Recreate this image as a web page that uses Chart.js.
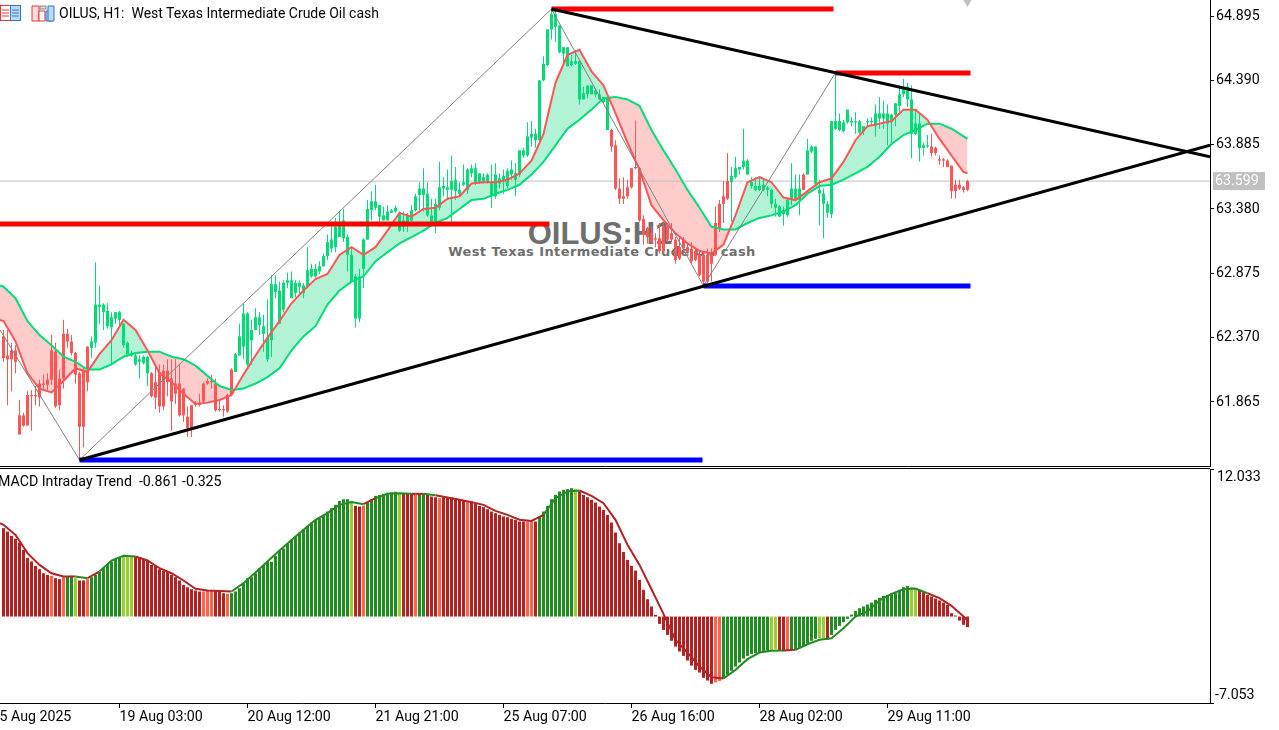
<!DOCTYPE html>
<html>
<head>
<meta charset="utf-8">
<title>OILUS H1</title>
<script src="https://cdn.jsdelivr.net/npm/chart.js@4/dist/chart.umd.min.js"></script>
<style>
html, body { margin: 0; padding: 0; background: #fff; width: 1279px; height: 730px; overflow: hidden; }
canvas { position: absolute; left: 0; z-index: 1; }
#priceChart { top: 0; }
#macdChart { top: 468px; }
.txt { position: absolute; white-space: nowrap; color: #000; font-family: Roboto, sans-serif; z-index: 2; }
#header { left: 59px; top: 5px; font-size: 14px; line-height: 17px; }
#macdLabel { left: -2px; top: 473px; font-size: 14.2px; line-height: 17px; }
#markTitle { z-index: 0; left: 440px; width: 320px; text-align: center; top: 216px; font: bold 31px/36px "Liberation Sans", sans-serif; color: #6e6e6e; }
#markSub { z-index: 0; left: 443px; width: 318px; text-align: center; top: 244px; font: bold 13px/16px "DejaVu Sans", sans-serif; letter-spacing: 0.4px; color: #6e6e6e; }
#paneLine { position: absolute; left: 0; top: 468px; width: 1210px; height: 1px; background: #000; z-index: 2; }
svg { position: absolute; top: 5px; z-index: 2; }
</style>
</head>
<body>
<div id="markTitle" class="txt">OILUS:H1</div>
<div id="markSub" class="txt">West Texas Intermediate Crude Oil cash</div>
<canvas id="priceChart" width="1279" height="467"></canvas>
<canvas id="macdChart" width="1279" height="262"></canvas>
<div id="paneLine"></div>
<svg style="left:0" width="22" height="17"><rect x="0.5" y="0.5" width="10" height="15" fill="#fff" stroke="#e33"/><rect x="10.5" y="0.5" width="10" height="15" fill="#bcdcf5" stroke="#2a78c0"/><path d="M2 5h7M2 8h7M2 11h7" stroke="#e33"/><path d="M12 5h7M12 8h7M12 11h7" stroke="#2a78c0"/></svg>
<svg style="left:31px" width="24" height="17"><path d="M1 1h7v15H1z" fill="#fdd" stroke="#e33"/><path d="M8 6h6v10H8z" fill="#fff" stroke="#e33"/><path d="M15 6h7v10h-7z" fill="#bcdcf5" stroke="#2a78c0"/><path d="M17 1h6v15h-6z" fill="#bcdcf5" stroke="#2a78c0"/><rect x="9" y="1" width="6" height="3" fill="#ddd" stroke="#888"/></svg>
<div id="header" class="txt">OILUS, H1:&nbsp; West Texas Intermediate Crude Oil cash</div>
<div id="macdLabel" class="txt">MACD Intraday Trend&nbsp; -0.861 -0.325</div>

<script>
// Candles, one entry per H1 bar
const bodyTop = [
  62.38,62.23,62.27,62.27,61.76,61.76,61.92,61.92,61.92,62.01,
  62.01,62.04,62.27,62.26,62.05,62.40,62.40,62.34,62.25,62.09,
  62.11,62.30,62.34,62.63,62.63,62.63,62.58,62.53,62.57,62.57,
  62.48,62.33,62.25,62.23,62.20,62.22,62.22,62.09,62.02,62.10,
  62.11,62.11,62.05,62.01,62.01,61.97,61.75,61.84,61.85,61.85,
  62.01,62.03,62.03,62.01,61.81,61.81,61.92,62.12,62.24,62.38,
  62.56,62.56,62.43,62.53,62.53,62.46,62.37,62.79,62.79,62.74,
  62.80,62.82,62.82,62.80,62.80,62.78,62.90,62.91,62.91,62.93,
  63.01,63.12,63.14,63.24,63.28,63.29,63.16,63.02,62.85,62.85,
  63.14,63.38,63.44,63.44,63.41,63.33,63.36,63.37,63.39,63.35,
  63.29,63.33,63.37,63.48,63.54,63.54,63.50,63.33,63.42,63.55,
  63.56,63.55,63.60,63.61,63.53,63.59,63.69,63.70,63.70,63.66,
  63.63,63.65,63.59,63.65,63.62,63.64,63.68,63.69,63.66,63.84,
  63.84,63.95,63.97,63.97,64.39,64.52,64.79,64.91,64.91,64.82,
  64.65,64.65,64.54,64.54,64.54,64.29,64.35,64.35,64.31,64.28,
  64.26,64.25,64.00,63.88,63.54,63.48,63.55,63.70,63.71,63.70,
  63.30,63.23,63.19,63.15,63.15,63.24,63.24,63.19,63.14,63.08,
  63.14,63.08,63.07,63.05,63.02,63.02,63.02,63.03,63.27,63.42,
  63.48,63.60,63.64,63.70,63.71,63.76,63.76,63.59,63.56,63.56,
  63.57,63.55,63.53,63.42,63.40,63.37,63.45,63.54,63.54,63.54,
  63.65,63.84,63.87,63.87,63.53,63.50,63.42,64.07,64.07,64.07,
  64.06,64.16,64.07,64.07,64.07,64.03,64.07,64.07,64.13,64.13,
  64.13,64.13,64.12,64.21,64.28,64.33,64.34,64.24,64.05,64.05,
  63.88,63.88,63.87,63.86,63.77,63.77,63.76,63.72,63.57,63.57,
  63.55,63.60
];
const bodyBottom = [
  62.21,62.20,62.20,62.18,61.61,61.68,61.68,61.91,61.91,61.90,
  62.00,62.00,62.04,61.83,61.84,62.05,62.34,62.25,62.08,61.67,
  61.67,62.02,62.29,62.33,62.61,62.57,62.46,62.45,62.52,62.51,
  62.31,62.24,62.23,62.16,62.18,62.17,62.09,61.91,61.90,61.83,
  61.83,62.02,61.87,61.93,61.76,61.76,61.66,61.66,61.84,61.84,
  61.87,62.01,62.02,61.80,61.80,61.80,61.79,61.92,62.10,62.23,
  62.30,62.16,62.35,62.43,62.47,62.40,62.20,62.35,62.73,62.48,
  62.59,62.80,62.68,62.72,62.77,62.72,62.77,62.85,62.85,62.89,
  62.93,63.01,63.07,63.08,63.16,63.15,63.02,62.81,62.52,62.52,
  62.91,63.14,63.37,63.39,63.32,63.29,63.29,63.35,63.36,63.21,
  63.24,63.25,63.29,63.37,63.49,63.49,63.33,63.28,63.28,63.39,
  63.54,63.53,63.53,63.52,63.50,63.57,63.53,63.66,63.59,63.59,
  63.59,63.59,63.49,63.48,63.58,63.59,63.56,63.65,63.61,63.65,
  63.80,63.80,63.94,63.92,63.92,64.39,64.51,64.79,64.81,64.61,
  64.60,64.50,64.51,64.52,64.24,64.24,64.28,64.28,64.28,64.24,
  64.22,64.00,63.87,63.54,63.46,63.46,63.48,63.55,63.70,63.29,
  63.18,63.16,63.12,63.14,63.05,63.05,63.14,63.14,62.98,62.99,
  63.07,63.05,62.97,62.98,62.86,62.81,62.81,62.95,63.02,63.22,
  63.42,63.46,63.59,63.63,63.69,63.71,63.65,63.56,63.53,63.53,
  63.53,63.53,63.42,63.39,63.32,63.34,63.33,63.45,63.45,63.45,
  63.53,63.65,63.83,63.58,63.50,63.42,63.35,63.34,64.01,64.00,
  63.99,64.06,64.06,64.06,63.98,63.99,64.06,64.06,64.03,64.09,
  64.09,64.05,64.06,64.12,64.19,64.28,64.24,63.97,63.97,63.86,
  63.86,63.87,63.82,63.82,63.76,63.76,63.71,63.52,63.52,63.54,
  63.53,63.53
];
const wickTop = [
  62.43,62.43,62.33,62.31,61.88,61.78,61.95,61.96,61.99,62.04,
  62.08,62.09,62.39,62.33,62.12,62.51,62.44,62.39,62.26,62.10,
  62.13,62.30,62.38,62.96,62.78,62.64,62.64,62.57,62.57,62.58,
  62.48,62.34,62.27,62.25,62.23,62.23,62.23,62.10,62.16,62.16,
  62.16,62.20,62.20,62.20,62.16,61.97,61.83,61.84,61.87,61.93,
  62.02,62.05,62.08,62.05,61.88,61.84,61.93,62.13,62.25,62.48,
  62.64,62.57,62.51,62.60,62.57,62.55,62.67,62.86,62.86,62.81,
  62.82,62.88,62.89,62.82,62.82,62.80,63.08,62.95,62.95,62.97,
  63.03,63.18,63.28,63.31,63.36,63.38,63.18,63.07,62.87,62.91,
  63.15,63.45,63.52,63.57,63.41,63.40,63.41,63.38,63.41,63.36,
  63.36,63.35,63.41,63.50,63.59,63.70,63.59,63.46,63.46,63.75,
  63.63,63.69,63.80,63.71,63.59,63.73,63.70,63.73,63.74,63.66,
  63.66,63.66,63.73,63.74,63.66,63.69,63.70,63.76,63.74,63.84,
  63.86,64.06,64.07,64.01,64.39,64.58,64.79,64.95,64.94,64.82,
  64.65,64.65,64.59,64.63,64.55,64.34,64.35,64.35,64.33,64.32,
  64.26,64.26,64.01,63.92,63.62,63.63,63.61,63.70,64.07,63.71,
  63.33,63.24,63.25,63.19,63.27,63.27,63.27,63.27,63.16,63.16,
  63.16,63.11,63.12,63.07,63.05,63.03,63.07,63.07,63.40,63.45,
  63.60,63.82,63.71,63.79,63.71,64.01,63.77,63.63,63.63,63.63,
  63.61,63.56,63.54,63.46,63.41,63.40,63.46,63.74,63.65,63.65,
  63.66,63.93,63.88,63.87,63.61,63.54,63.44,64.07,64.45,64.13,
  64.08,64.16,64.10,64.14,64.08,64.03,64.09,64.10,64.20,64.26,
  64.23,64.20,64.13,64.21,64.34,64.40,64.37,64.35,64.16,64.13,
  63.90,63.96,63.97,63.87,63.80,63.78,63.77,63.72,63.61,63.61,
  63.56,63.61
];
const wickBottom = [
  62.18,61.84,61.95,62.09,61.61,61.67,61.68,61.64,61.84,61.83,
  61.96,61.96,62.00,61.82,61.80,61.97,62.29,62.23,62.01,61.41,
  61.51,61.95,62.21,62.29,62.48,62.43,62.44,62.16,62.48,62.46,
  62.29,62.22,62.22,62.15,62.05,62.16,61.99,61.90,61.81,61.78,
  61.80,61.91,61.64,61.85,61.75,61.71,61.59,61.59,61.83,61.83,
  61.86,62.00,61.97,61.79,61.79,61.75,61.78,61.91,62.10,62.23,
  62.20,62.14,62.16,62.43,62.39,62.26,62.18,62.22,62.68,62.48,
  62.57,62.76,62.68,62.69,62.70,62.68,62.76,62.84,62.84,62.87,
  62.93,62.98,63.04,63.04,63.16,63.12,62.89,62.80,62.45,62.49,
  62.76,63.14,63.29,63.37,63.24,63.29,63.29,63.35,63.35,63.20,
  63.20,63.20,63.28,63.36,63.37,63.36,63.32,63.24,63.19,63.37,
  63.48,63.46,63.28,63.45,63.49,63.56,63.50,63.63,63.57,63.58,
  63.58,63.58,63.39,63.46,63.54,63.50,63.54,63.61,63.48,63.63,
  63.78,63.79,63.87,63.86,63.90,64.38,64.50,64.71,64.69,64.60,
  64.52,64.50,64.50,64.51,64.20,64.24,64.25,64.28,64.26,64.24,
  64.21,64.00,63.83,63.53,63.42,63.42,63.46,63.54,63.69,63.28,
  63.10,63.11,63.11,63.08,63.03,63.03,63.12,63.12,62.95,62.98,
  63.03,63.03,62.95,62.97,62.85,62.78,62.80,62.81,63.01,63.20,
  63.27,63.45,63.28,63.62,63.65,63.69,63.65,63.54,63.52,63.52,
  63.52,63.48,63.39,63.32,63.32,63.25,63.32,63.41,63.44,63.33,
  63.53,63.65,63.82,63.57,63.25,63.15,63.31,63.31,64.00,63.99,
  63.98,64.05,64.03,63.97,63.97,63.96,64.03,64.04,63.95,64.01,
  64.01,63.88,63.88,64.03,64.12,64.26,64.18,63.78,63.96,63.75,
  63.80,63.86,63.79,63.80,63.73,63.71,63.71,63.46,63.46,63.53,
  63.51,63.52
];
const redCandleSpans = [[0, 21], [37, 57], [152, 181], [200, 200], [232, 241]];

// Moving averages: left edge of the plot, then every 3 bars plus the last bar
const fastEma = [
  62.51,
  62.50,62.34,62.09,61.97,61.94,62.03,62.13,62.10,62.24,62.35,62.51,62.43,62.27,62.09,62.02,61.93,
  61.85,61.86,61.88,61.92,62.08,62.23,62.37,62.50,62.64,62.74,62.83,62.87,63.02,63.08,63.02,63.08,
  63.21,63.35,63.32,63.38,63.39,63.46,63.48,63.58,63.59,63.59,63.61,63.66,63.76,63.97,64.37,64.59,
  64.63,64.46,64.35,64.13,63.90,63.69,63.41,63.29,63.19,63.11,63.05,63.03,63.10,63.33,63.59,63.63,
  63.59,63.47,63.45,63.52,63.59,63.62,63.75,63.92,64.03,64.05,64.07,64.16,64.16,64.08,63.93,63.80,
  63.67,63.66
];
const slowEma = [
  62.78,
  62.77,62.68,62.50,62.39,62.31,62.22,62.18,62.12,62.12,62.16,62.22,62.25,62.26,62.26,62.22,62.20,
  62.15,62.07,61.99,61.96,61.97,62.01,62.06,62.13,62.27,62.38,62.46,62.63,62.74,62.81,62.85,62.97,
  63.04,63.11,63.16,63.21,63.27,63.31,63.38,63.45,63.46,63.50,63.53,63.57,63.65,63.75,63.88,64.01,
  64.08,64.16,64.25,64.26,64.24,64.19,64.00,63.84,63.69,63.53,63.39,63.24,63.22,63.22,63.27,63.31,
  63.33,63.36,63.41,63.50,63.56,63.57,63.61,63.66,63.71,63.79,63.89,63.96,64.00,64.05,64.05,64.01,
  63.95,63.93
];

// Drawn objects: zigzag pivots, levels and trend lines as [bar, price]
const zigzagBars = [-0.875, 19, 137, 175, 208];
const zigzagPrices = [62.43, 61.41, 64.95, 62.776, 64.45];
const redLevels = [[-0.875, 136.5, 63.262], [137, 207.5, 64.95], [208, 241.75, 64.448]];
const blueLevels = [[19, 174.75, 61.41], [175, 241.75, 62.776]];
const supportLine = [[19, 61.41], [301.625, 63.88]];
const resistanceLine = [[137, 64.95], [301.625, 63.79]];
const lastPrice = 63.599;

// MACD histogram, one entry per bar
const macdValues = [
  7.21,6.93,6.58,6.34,6.04,5.44,4.79,4.49,4.13,3.86,
  3.53,3.40,3.32,3.13,3.05,3.21,3.26,3.32,3.13,2.94,
  2.94,3.05,3.21,3.40,3.64,3.94,4.30,4.49,4.68,4.84,
  5.03,4.95,4.89,4.89,4.76,4.68,4.57,4.21,4.13,3.86,
  3.73,3.67,3.40,3.21,2.94,2.58,2.39,2.23,2.12,2.04,
  2.04,2.12,2.12,2.12,2.01,1.90,1.85,1.90,2.04,2.31,
  2.66,3.13,3.21,3.53,3.94,4.21,4.46,4.46,4.95,5.36,
  5.55,5.93,6.25,6.53,6.85,7.12,7.40,7.67,7.89,8.02,
  8.29,8.56,8.84,9.11,9.43,9.57,9.57,9.38,9.03,8.97,
  9.05,9.33,9.57,9.84,9.92,10.01,10.09,10.14,10.17,10.01,
  10.06,10.01,10.01,9.95,10.06,10.01,9.92,9.79,9.73,9.65,
  9.71,9.71,9.71,9.65,9.52,9.46,9.38,9.38,9.24,9.03,
  8.92,8.75,8.56,8.43,8.29,8.16,8.10,7.97,7.89,7.75,
  7.75,7.75,7.75,7.75,8.16,8.56,9.03,9.57,9.92,10.20,
  10.33,10.39,10.47,10.39,10.20,9.92,9.73,9.52,9.30,8.97,
  8.70,8.29,7.67,6.85,5.98,5.27,4.62,4.13,3.75,2.99,
  2.18,1.41,0.82,0.14,-0.60,-1.09,-1.50,-1.98,-2.45,-2.85,
  -3.21,-3.59,-4.00,-4.35,-4.57,-5.00,-5.22,-5.49,-5.38,-5.25,
  -5.03,-4.76,-4.43,-4.08,-3.75,-3.43,-3.21,-3.07,-2.99,-2.94,
  -2.85,-2.80,-2.72,-2.66,-2.77,-2.83,-2.77,-2.72,-2.66,-2.58,
  -2.45,-2.18,-1.98,-1.82,-1.77,-1.77,-1.90,-1.50,-1.09,-0.76,
  -0.46,-0.19,0.16,0.46,0.68,0.82,0.98,1.14,1.36,1.52,
  1.69,1.77,1.85,2.01,2.18,2.39,2.50,2.39,2.28,2.18,
  1.98,1.77,1.63,1.47,1.31,1.14,0.95,0.27,0.08,-0.33,
  -0.68,-0.86
];
const tomatoBars = [12, 15, 21, 50, 51, 52, 56, 90, 103, 109, 116, 131, 132, 178, 179, 196];
const limeBars = [18, 30, 31, 32, 87, 99, 143, 192, 193, 204, 205, 227, 228];
const greenSpans = [[16, 17], [22, 29], [57, 86], [91, 98], [104, 105], [134, 142], [180, 191], [197, 203], [207, 226]];

// MACD signal line: left edge of the plot, then every 3 bars plus the last bar
const signalValues = [
  7.61,
  7.48,6.66,5.17,4.21,3.53,3.26,3.26,3.13,3.67,4.57,4.95,4.89,4.57,3.94,3.53,2.94,
  2.26,2.12,2.09,2.04,2.72,3.59,4.49,5.38,6.25,7.07,7.89,8.43,9.11,9.33,9.16,9.65,
  10.01,10.06,10.01,10.01,9.90,9.71,9.52,9.33,9.11,8.62,8.29,7.89,7.80,8.29,9.65,10.20,
  10.28,9.84,9.24,7.89,5.85,4.21,2.23,0.22,-1.90,-2.94,-4.08,-4.95,-5.06,-4.35,-3.48,-2.94,
  -2.80,-2.77,-2.72,-2.26,-1.90,-1.77,-0.95,0.00,0.41,1.31,1.85,2.23,2.28,1.90,1.50,0.87,
  0.00,-0.33
];

// Axes
const priceTicks = [64.895, 64.39, 63.885, 63.38, 62.875, 62.37, 61.865];
const macdTicks = [12.033, -7.053];
const timeTickBars = [-3, 29, 61, 93, 125, 157, 189, 221];
const timeTickLabels = ['15 Aug 2025', '19 Aug 03:00', '20 Aug 12:00', '21 Aug 21:00', '25 Aug 07:00', '26 Aug 16:00', '28 Aug 02:00', '29 Aug 11:00'];

const GREEN = '#00dc78', RED = '#ff5555';
const axisFont = { family: 'Roboto', size: 14.2 };
const xMin = -0.875, xMax = 301.625;

const barIndex = macdValues.map((v, i) => i);
const emaIndex = [xMin];
for (let i = 0; i <= 240; i += 3) emaIndex.push(i);
emaIndex.push(241);

const inSpans = (i, spans) => spans.some(s => i >= s[0] && i <= s[1]);
const candleColors = barIndex.map(i => inSpans(i, redCandleSpans) ? RED : GREEN);
const macdColors = barIndex.map(i => {
  if (tomatoBars.includes(i)) return '#ff6347';
  if (limeBars.includes(i)) return '#9acd32';
  if (inSpans(i, greenSpans)) return '#228b22';
  return '#b22222';
});

function levelDataset(level, color, order) {
  return {
    type: 'line', data: [{ x: level[0], y: level[2] }, { x: level[1], y: level[2] }],
    borderColor: color, borderWidth: 5, pointRadius: 0, order: order
  };
}

// keep the plot area fixed, as the axis would otherwise pad it for its labels
function fixSize(scale, w, h) {
  if (w) scale.width = w;
  if (h) scale.height = h;
  scale.paddingTop = scale.paddingBottom = scale.paddingLeft = scale.paddingRight = 0;
}

// Last price label on the axis
const priceTag = {
  id: 'priceTag',
  afterDraw(chart) {
    const ctx = chart.ctx, y = chart.scales.y.getPixelForValue(lastPrice);
    ctx.save();
    ctx.fillStyle = '#c0c0c0';
    ctx.fillRect(1213, y - 9, 52, 18);
    ctx.fillStyle = '#fff';
    ctx.font = '14.2px Roboto';
    ctx.textBaseline = 'middle';
    ctx.fillText(lastPrice.toFixed(3), 1215, y + 0.5);
    ctx.restore();
  }
};

// MACD scale labels sit inside the pane, next to the two end ticks
const macdTickText = {
  id: 'macdTickText',
  afterDraw(chart) {
    const ctx = chart.ctx, s = chart.scales.y;
    ctx.save();
    ctx.fillStyle = '#000';
    ctx.font = '14.2px Roboto';
    ctx.textBaseline = 'middle';
    ctx.fillText(macdTicks[0].toFixed(3), 1217, s.getPixelForValue(macdTicks[0]) + 8);
    ctx.fillText(macdTicks[1].toFixed(3), 1215, s.getPixelForValue(macdTicks[1]) - 8);
    ctx.restore();
  }
};

new Chart(document.getElementById('priceChart'), {
  type: 'bar',
  data: {
    datasets: [
      { type: 'line', data: supportLine.map(p => ({ x: p[0], y: p[1] })), borderColor: '#000', borderWidth: 3, pointRadius: 0, order: 1 },
      { type: 'line', data: resistanceLine.map(p => ({ x: p[0], y: p[1] })), borderColor: '#000', borderWidth: 3, pointRadius: 0, order: 1 },
      levelDataset(redLevels[0], '#ff0000', 2),
      levelDataset(redLevels[1], '#ff0000', 2),
      levelDataset(redLevels[2], '#ff0000', 2),
      levelDataset(blueLevels[0], '#0000ff', 2),
      levelDataset(blueLevels[1], '#0000ff', 2),
      { type: 'line', data: zigzagBars.map((x, k) => ({ x: x, y: zigzagPrices[k] })), borderColor: '#808080', borderWidth: 1, pointRadius: 0, order: 3 },
      { type: 'line', label: 'fast', data: emaIndex.map((x, k) => ({ x: x, y: fastEma[k] })), borderColor: RED, borderWidth: 2, pointRadius: 0, order: 4,
        fill: { target: 9, above: '#b2f3d6', below: '#ffcccc' } },
      { type: 'line', label: 'slow', data: emaIndex.map((x, k) => ({ x: x, y: slowEma[k] })), borderColor: GREEN, borderWidth: 2, pointRadius: 0, order: 4 },
      { label: 'body', data: barIndex.map(i => ({ x: i, y: [bodyBottom[i], bodyTop[i]] })), backgroundColor: candleColors, barThickness: 3, inflateAmount: 0, grouped: false, order: 5 },
      { label: 'wick', data: barIndex.map(i => ({ x: i, y: [wickBottom[i], wickTop[i]] })), backgroundColor: candleColors, barThickness: 1, inflateAmount: 0, grouped: false, order: 6 },
      { type: 'line', data: [{ x: xMin, y: lastPrice }, { x: xMax, y: lastPrice }], borderColor: '#c0c0c0', borderWidth: 1, pointRadius: 0, order: 7 },
      { type: 'line', data: [{ x: 241, y: 65.02 }], showLine: false, pointStyle: 'triangle', pointRotation: 180, pointRadius: 7,
        pointBackgroundColor: '#c0c0c0', pointBorderWidth: 0, order: 7 }
    ]
  },
  options: {
    responsive: false,
    animation: false,
    layout: { padding: 0, autoPadding: false },
    plugins: { legend: { display: false }, tooltip: { enabled: false }, filler: { drawTime: 'beforeDatasetsDraw' } },
    scales: {
      x: {
        type: 'linear', min: xMin, max: xMax, offset: false,
        grid: { display: false, offset: false }, border: { color: '#000' }, ticks: { display: false },
        afterFit: s => fixSize(s, 0, 1)
      },
      y: {
        position: 'right', min: 61.3625, max: 65.0206,
        grid: { drawOnChartArea: false, color: '#000', tickLength: 4 }, border: { color: '#000' },
        ticks: { color: '#000', font: axisFont, padding: 2, autoSkip: false, callback: v => v.toFixed(3) },
        afterBuildTicks: s => { s.ticks = priceTicks.map(v => ({ value: v })); },
        afterFit: s => fixSize(s, 69, 0)
      }
    }
  },
  plugins: [priceTag]
});

new Chart(document.getElementById('macdChart'), {
  type: 'bar',
  data: {
    datasets: [
      { type: 'line', label: 'signal', data: emaIndex.map((x, k) => ({ x: x, y: signalValues[k] })), borderWidth: 2, pointRadius: 0, order: 1,
        borderColor: '#b22222',
        segment: { borderColor: c => ['#228b22', '#9acd32'].includes(macdColors[c.p0.parsed.x]) ? '#228b22' : '#b22222' } },
      { label: 'macd', data: barIndex.map(i => ({ x: i, y: macdValues[i] })), backgroundColor: macdColors, barThickness: 3, inflateAmount: 0, grouped: false, order: 2 }
    ]
  },
  options: {
    responsive: false,
    animation: false,
    layout: { padding: { top: 1 }, autoPadding: false },
    plugins: { legend: { display: false }, tooltip: { enabled: false } },
    scales: {
      x: {
        type: 'linear', min: xMin, max: xMax, offset: false,
        grid: { drawOnChartArea: false, offset: false, color: '#000', tickLength: 5 }, border: { color: '#000' },
        ticks: { color: '#000', font: axisFont, align: 'start', maxRotation: 0, autoSkip: false, padding: 1,
          callback: v => timeTickLabels[timeTickBars.indexOf(v)] },
        afterBuildTicks: s => { s.ticks = timeTickBars.map(v => ({ value: v })); },
        afterFit: s => fixSize(s, 0, 27)
      },
      y: {
        position: 'right', min: -7.053, max: 12.033,
        grid: { drawOnChartArea: false, color: '#000', tickLength: 4 }, border: { color: '#000' },
        ticks: { display: false },
        afterBuildTicks: s => { s.ticks = macdTicks.map(v => ({ value: v })); },
        afterFit: s => fixSize(s, 69, 0)
      }
    }
  },
  plugins: [macdTickText]
});
</script>
</body>
</html>
